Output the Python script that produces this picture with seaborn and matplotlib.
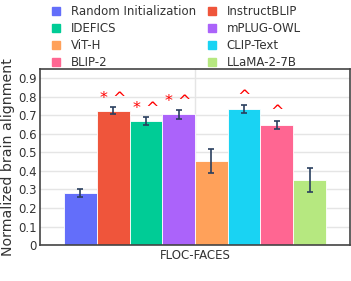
import pandas as pd
import numpy as np
import matplotlib.pyplot as plt
import seaborn as sns

# bar data
models = ['Random Initialization', 'InstructBLIP', 'IDEFICS', 'mPLUG-OWL',
          'ViT-H', 'CLIP-Text', 'BLIP-2', 'LLaMA-2-7B']
scores = [0.28, 0.725, 0.67, 0.705, 0.455, 0.735, 0.65, 0.352]
errors = [0.02, 0.02, 0.022, 0.024, 0.065, 0.02, 0.022, 0.065]
marks = ['', '*^', '*^', '*^', '', '^', '^', '']
colors = ['#636EFA', '#EF553B', '#00CC96', '#AB63FA',
          '#FFA15A', '#19D3F3', '#FF6692', '#B6E880']
region = 'FLOC-FACES'

df = pd.DataFrame({'region': region, 'model': models, 'score': scores})

sns.set_style('white')
plt.rcParams['font.family'] = ['DejaVu Sans']
plt.rcParams['text.color'] = '#333333'

fig = plt.figure(figsize=(3.51, 2.81), dpi=100)
ax = fig.add_axes([0.114, 0.128, 0.883, 0.626])

sns.barplot(data=df, x='region', y='score', hue='model', hue_order=models,
            palette=colors, saturation=1, width=0.845, edgecolor='white',
            linewidth=0.6, errorbar=None, legend=False, ax=ax, zorder=2)

# error bars and significance marks on top of each bar
for bar, s, e, m in zip(ax.patches, scores, errors, marks):
    cx = bar.get_x() + bar.get_width() / 2
    ax.errorbar(cx, s, yerr=e, color='#2a3f5f', capsize=2, elinewidth=1.2,
                capthick=1.2, zorder=3)
    if m:
        txt = ' '.join(m)
        ax.text(cx, s + e + 0.006, txt, color='red', ha='center', va='bottom',
                fontsize=11.5)

ax.set_ylim(0, 0.95)
ax.set_xlim(-0.5, 0.5)
ax.set_yticks(np.arange(0, 1.0, 0.1))
ax.set_yticklabels(['0'] + [f'{v:.1f}' for v in np.arange(0.1, 1.0, 0.1)])
ax.set_ylabel('Normalized brain alignment', fontsize=10.2, labelpad=2,
              color='#333333')
ax.set_xlabel('')
ax.tick_params(axis='both', length=0, labelsize=8.5, pad=2.5,
               labelcolor='#333333')
ax.grid(True, color='#e5e5e5', linewidth=1, zorder=0)
ax.set_axisbelow(True)
for sp in ax.spines.values():
    sp.set_color('#444444')
    sp.set_linewidth(1.2)

# legend above the plot, row-wise in two columns
handles = [plt.Rectangle((0, 0), 1, 1, color=c) for c in colors]
order = [0, 2, 4, 6, 1, 3, 5, 7]
ax.legend([handles[i] for i in order], [models[i] for i in order],
          ncol=2, loc='lower left', bbox_to_anchor=(0.039, 1.0), frameon=False,
          fontsize=8.5, handlelength=0.7, handleheight=0.7, handletextpad=0.9,
          columnspacing=1.0, labelspacing=0.33, borderaxespad=0, borderpad=0)

plt.savefig('out.png', dpi=100)
